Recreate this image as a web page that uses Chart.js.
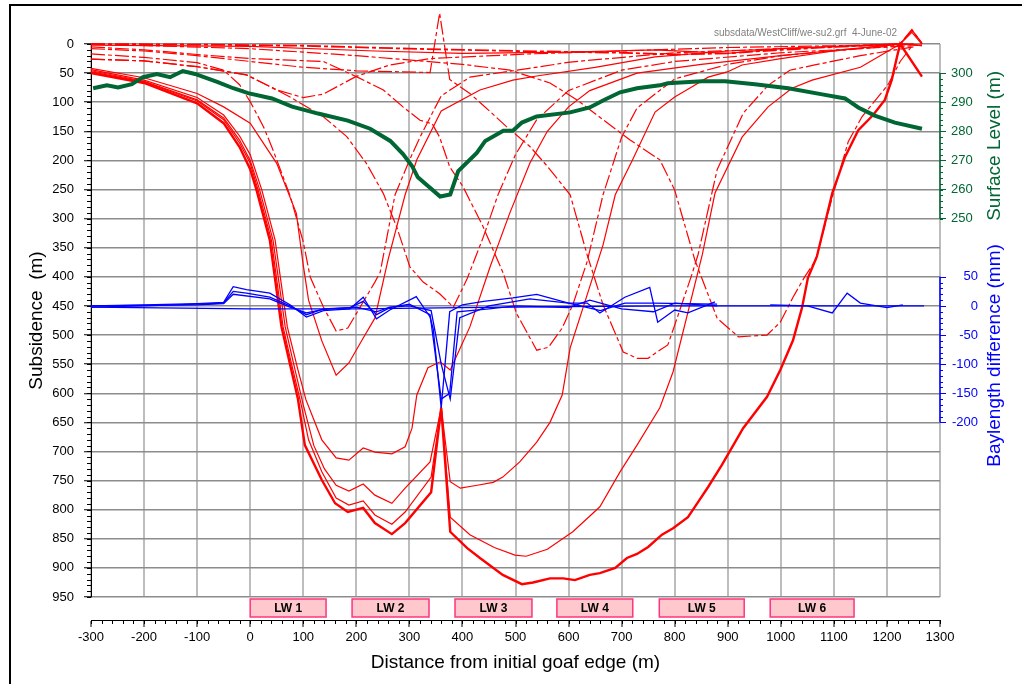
<!DOCTYPE html>
<html>
<head>
<meta charset="utf-8">
<script src="https://cdn.jsdelivr.net/npm/chart.js@4.4.0/dist/chart.umd.min.js"></script>
<style>
  html, body { margin: 0; padding: 0; background: #fff; }
  canvas { display: block; }
</style>
</head>
<body>
<canvas id="myChart" width="1022" height="684"></canvas>
<script>
// subsidence after each longwall [distance m, subsidence]
const subLW1 = [[-300,42],[-200,58],[-100,85],[-50,108],[0,136],[50,205],[87,291],[100,380],[110,440],[135,510],[162,569],[186,548],[213,505],[235,471],[260,370],[292,259],[314,199],[360,115],[433,79],[495,62],[540,55],[650,40],[763,22],[900,12],[1050,6],[1225,0],[1266,2]];
const subLW2 = [[-300,44],[-200,62],[-100,92],[-50,122],[-20,158],[0,190],[22,251],[47,337],[70,486],[90,560],[105,611],[135,680],[162,711],[186,715],[213,694],[235,701],[267,704],[292,692],[305,660],[314,603],[335,556],[358,546],[377,560],[414,486],[452,383],[489,291],[527,205],[560,150],[600,108],[640,80],[729,50],[850,35],[1000,20],[1225,0],[1266,3]];
const subLW3 = [[-300,46],[-200,64],[-100,96],[-50,127],[-20,165],[0,200],[18,251],[43,337],[66,486],[82,550],[100,620],[120,690],[140,730],[162,758],[186,768],[213,756],[235,775],[267,789],[292,763],[339,718],[360,625],[377,752],[396,763],[428,758],[458,753],[476,744],[508,718],[540,684],[565,650],[588,603],[603,522],[635,431],[665,345],[688,259],[720,200],[763,117],[800,91],[832,74],[863,57],[899,48],[927,36],[1000,25],[1100,12],[1225,0],[1247,-24],[1266,-2]];
const subLW4 = [[-300,48],[-200,65],[-100,98],[-50,130],[-20,170],[0,205],[15,251],[40,337],[62,486],[78,550],[95,615],[110,680],[135,735],[162,780],[186,792],[213,785],[235,809],[267,825],[292,804],[341,744],[360,625],[377,813],[414,843],[460,865],[499,878],[520,880],[560,868],[608,838],[659,795],[697,735],[729,689],[772,625],[797,563],[852,362],[876,256],[927,160],[976,108],[1021,76],[1059,62],[1150,40],[1225,0],[1247,-20],[1266,0]];
const subLW5 = [[-300,50],[-200,67],[-100,102],[-50,136],[-20,177],[0,215],[12,251],[37,337],[59,486],[75,550],[90,610],[103,689],[135,749],[160,789],[184,804],[213,797],[235,823],[267,842],[292,823],[341,770],[360,625],[377,838],[409,866],[433,883],[476,912],[512,928],[533,925],[565,918],[590,918],[612,921],[640,912],[659,909],[688,900],[710,883],[729,876],[750,864],[776,843],[797,832],[825,813],[844,787],[863,761],[889,723],[929,660],[974,606],[999,560],[1023,509],[1040,453],[1051,402],[1068,365],[1097,256],[1121,194],[1146,148],[1174,122],[1196,96],[1209,62],[1219,22],[1225,0],[1266,56]];

// incremental profiles, dash-dot
const incA = [[-300,26],[-200,29],[-100,39],[-7,53],[50,79],[100,92],[138,86],[199,56],[263,36],[339,25],[527,17],[700,12],[900,6],[1100,3],[1250,0]];
const incLW1 = [[-300,17],[-200,23],[-100,32],[-50,45],[-20,70],[0,99],[25,142],[43,182],[75,260],[100,340],[113,400],[138,452],[162,493],[184,488],[235,409],[245,392],[273,259],[300,200],[320,160],[360,89],[414,57],[503,45],[603,31],[800,15],[1000,8],[1250,0]];
const incLW2 = [[-300,26],[-200,29],[-100,39],[-7,53],[50,79],[75,91],[138,125],[182,159],[219,205],[251,257],[276,314],[301,383],[326,409],[357,429],[383,452],[409,403],[440,330],[467,259],[500,190],[540,130],[600,80],[700,45],[800,30],[1000,15],[1250,3]];
const incLW3 = [[-300,5],[-200,10],[-100,18],[0,25],[138,30],[200,56],[251,79],[288,108],[320,131],[343,137],[357,160],[376,211],[401,245],[439,314],[477,394],[502,463],[540,526],[562,521],[588,488],[608,448],[635,374],[665,259],[700,160],[729,110],[800,60],[900,35],[1000,20],[1250,0]];
const incLW4 = [[-300,8],[-200,12],[-100,20],[0,30],[100,40],[200,46],[339,49],[357,-53],[376,61],[414,85],[452,116],[483,142],[527,176],[560,210],[603,259],[635,362],[665,448],[703,529],[729,540],[750,540],[767,529],[787,517],[800,483],[832,397],[844,362],[880,216],[929,119],[976,71],[1017,45],[1064,36],[1150,20],[1250,5]];
const incLW5 = [[-300,0],[0,8],[200,20],[400,35],[490,45],[565,67],[616,96],[665,130],[716,165],[772,199],[800,251],[838,371],[880,471],[920,503],[974,500],[999,478],[1023,435],[1045,400],[1066,371],[1097,263],[1127,168],[1153,125],[1202,70],[1225,30],[1250,0]];
const incLW6 = [[-300,0],[-100,1],[100,3],[300,8],[500,12],[700,15],[800,18],[900,16],[1000,10],[1100,5],[1225,0],[1247,-24],[1266,0]];
const topSolid = [[-300,2],[0,4],[235,12],[400,16],[600,14],[763,10],[900,16],[1000,8],[1225,0],[1266,3]];

// baylength difference (mm)
const bayA = [[-300,0],[-200,2],[-100,4],[-50,6],[-32,33],[-7,28],[37,22],[75,2],[106,-19],[138,-8],[188,-5],[213,15],[238,-22],[263,-7],[313,16],[339,-19],[345,-40],[360,-175],[376,-10],[400,2],[440,8],[495,14],[540,20],[600,5],[635,5],[659,-12],[706,15],[753,32],[768,-28],[800,-7],[825,-12],[876,7]];
const bayB = [[-300,-2],[-200,0],[-100,3],[-50,5],[-32,25],[-7,22],[37,15],[75,0],[106,-15],[138,-5],[188,-3],[213,8],[238,-15],[263,-3],[300,3],[339,-15],[360,-160],[376,-150],[390,-10],[450,-5],[500,0],[600,-3],[640,10],[700,-5],[760,-10],[800,5],[880,0]];
const bayC = [[-300,0],[-100,2],[-50,4],[-32,20],[37,12],[75,-2],[106,-12],[138,-6],[200,-2],[238,-10],[263,-2],[300,0],[341,-8],[360,-100],[377,-160],[395,-20],[450,0],[527,12],[600,5],[660,-8],[706,5],[760,5],[880,3]];
const bayD = [[-300,-2],[0,-5],[200,-5],[400,-3],[600,-1],[800,0],[1000,0],[1270,0]];
const bayE = [[980,2],[1050,0],[1097,-12],[1125,22],[1150,5],[1200,-3],[1230,2]];

// surface level (m)
const surface = [[-296,294.8],[-270,295.8],[-249,295.1],[-223,296.2],[-202,298.6],[-176,299.7],[-151,298.6],[-127,300.7],[-104,299.7],[-61,296.9],[-32,294.8],[-4,293.1],[41,291.3],[79,288.5],[128,286.1],[184,283.7],[226,280.9],[264,276.7],[288,272.2],[305,268.1],[316,264.2],[358,257.6],[377,258.3],[392,266.3],[427,272.6],[443,276.7],[477,280.2],[495,280.2],[512,283],[540,285.1],[603,286.5],[640,288.2],[665,290.6],[697,293.4],[729,294.8],[772,295.8],[787,296.5],[852,297.2],[895,297.2],[951,296.2],[1014,294.8],[1078,292.7],[1121,291.3],[1146,288.2],[1177,285.4],[1215,283],[1266,280.9]];

const panelNames = ['LW 1', 'LW 2', 'LW 3', 'LW 4', 'LW 5', 'LW 6'];
const panelStart = [0, 192, 386, 578, 771, 980];
const panelEnd = [143, 337, 531, 721, 931, 1138];
const levelLabels = [250, 260, 270, 280, 290, 300];
const bayLabels = [-200, -150, -100, -50, 0, 50];

const RED = '#ff0000', BLUE = '#0000ff', GREEN = '#006633';
const FONT = "'Liberation Sans', Arial, sans-serif";
const dashDot = [14, 3, 4, 3];

function pts(arr) { return arr.map(p => ({x: p[0], y: p[1]})); }
function red(arr, dashed, width) {
  return {data: pts(arr), borderColor: RED, borderWidth: width || 1.2, borderDash: dashed ? dashDot : [],
    yAxisID: 'y', order: 3, clip: false};
}
function blue(arr) {
  return {data: pts(arr), borderColor: BLUE, borderWidth: 1.3, yAxisID: 'y3', order: 1};
}

// short ticks between the labelled ones
function minorTicks(ctx, scale, from, to, step, horizontal, start, len) {
  ctx.beginPath();
  for (let v = from; v <= to + 1e-9; v += step) {
    const p = Math.round(scale.getPixelForValue(v)) + 0.5;
    if (horizontal) { ctx.moveTo(p, start); ctx.lineTo(p, start + len); }
    else { ctx.moveTo(start, p); ctx.lineTo(start + len, p); }
  }
  ctx.stroke();
}

const extras = {
  id: 'extras',
  beforeDraw(chart) {
    const ctx = chart.ctx;
    ctx.save();
    ctx.fillStyle = '#000';
    ctx.fillRect(9, 4, 2, chart.height);
    ctx.fillRect(9, 4, chart.width, 2);
    ctx.restore();
  },
  afterDraw(chart) {
    const ctx = chart.ctx;
    const x = chart.scales.x, y = chart.scales.y, y2 = chart.scales.y2, y3 = chart.scales.y3;
    const area = chart.chartArea;
    ctx.save();
    ctx.lineWidth = 1;
    ctx.strokeStyle = '#000';
    minorTicks(ctx, y, 0, 950, 10, false, area.left, -4);
    minorTicks(ctx, x, -300, 1300, 20, true, x.top, 4);
    ctx.strokeStyle = GREEN;
    minorTicks(ctx, y2, 250, 300, 2, false, area.right, 3);
    // longwall panels
    ctx.font = 'bold 12px ' + FONT;
    ctx.textAlign = 'center';
    ctx.textBaseline = 'middle';
    panelNames.forEach((name, i) => {
      const l = x.getPixelForValue(panelStart[i]), r = x.getPixelForValue(panelEnd[i]);
      ctx.fillStyle = '#ffc8cc';
      ctx.fillRect(l, area.bottom + 2, r - l, 18);
      ctx.strokeStyle = '#ff3380';
      ctx.lineWidth = 1.5;
      ctx.strokeRect(l, area.bottom + 2, r - l, 18);
      ctx.fillStyle = '#000';
      ctx.fillText(name, (l + r) / 2, area.bottom + 11.5);
    });
    // surface level axis line
    ctx.strokeStyle = GREEN;
    ctx.lineWidth = 1.5;
    ctx.beginPath();
    ctx.moveTo(area.right, y2.getPixelForValue(250));
    ctx.lineTo(area.right, y2.getPixelForValue(300));
    ctx.stroke();
    // baylength axis
    ctx.strokeStyle = BLUE;
    ctx.beginPath();
    ctx.moveTo(area.right, y3.getPixelForValue(-200));
    ctx.lineTo(area.right, y3.getPixelForValue(50));
    ctx.stroke();
    ctx.lineWidth = 1;
    minorTicks(ctx, y3, -200, 50, 10, false, area.right, 3);
    minorTicks(ctx, y3, -200, 50, 50, false, area.right, 6);
    ctx.fillStyle = BLUE;
    ctx.font = '13px ' + FONT;
    ctx.textAlign = 'right';
    bayLabels.forEach(v => ctx.fillText(String(v), area.right + 38, y3.getPixelForValue(v)));
    // right titles
    ctx.font = '19px ' + FONT;
    ctx.textAlign = 'center';
    ctx.save();
    ctx.translate(area.right + 55, (y2.getPixelForValue(250) + y2.getPixelForValue(300)) / 2);
    ctx.rotate(-Math.PI / 2);
    ctx.fillStyle = GREEN;
    ctx.fillText('Surface Level (m)', 0, 0);
    ctx.restore();
    ctx.save();
    ctx.translate(area.right + 55, y3.getPixelForValue(-85));
    ctx.rotate(-Math.PI / 2);
    ctx.fillStyle = BLUE;
    ctx.fillText('Baylength difference (mm)', 0, 0);
    ctx.restore();
    // file stamp
    ctx.font = '10px ' + FONT;
    ctx.fillStyle = '#808080';
    ctx.textAlign = 'right';
    ctx.fillText('subsdata/WestCliff/we-su2.grf  4-June-02', 897, 33);
    ctx.restore();
  }
};

const datasets = [
  blue(bayA), blue(bayB), blue(bayC), blue(bayD), blue(bayE),
  {data: pts(surface), borderColor: GREEN, borderWidth: 4, yAxisID: 'y2', order: 2},
  red(subLW1), red(subLW2), red(subLW3), red(subLW4), red(subLW5, false, 2.4),
  red(incA, true), red(incLW1, true), red(incLW2, true), red(incLW3, true), red(incLW4, true), red(incLW5, true),
  red(incLW6, true, 1.8), red(topSolid)
];

new Chart(document.getElementById('myChart'), {
  type: 'scatter',
  data: {datasets: datasets},
  plugins: [extras],
  options: {
    responsive: false,
    animation: false,
    layout: {padding: {top: 44, left: 0, right: 0, bottom: 0}},
    elements: {point: {radius: 0}, line: {tension: 0}},
    datasets: {scatter: {showLine: true}},
    plugins: {legend: {display: false}, tooltip: {enabled: false}},
    scales: {
      xgap: {
        type: 'linear', position: 'bottom', min: -300, max: 1300, weight: 0,
        grid: {display: false}, ticks: {display: false}, border: {display: false},
        afterFit: s => { s.height = 23; }
      },
      x: {
        type: 'linear', position: 'bottom', min: -300, max: 1300, weight: 1,
        ticks: {stepSize: 100, autoSkip: false, maxRotation: 0, padding: 3, color: '#000',
          font: {family: FONT, size: 13}, callback: v => String(v)},
        grid: {color: '#bdbdbd', lineWidth: 2, tickColor: '#000', tickWidth: 1, tickLength: 7},
        border: {color: '#000', width: 1},
        title: {display: true, text: 'Distance from initial goaf edge (m)', color: '#000',
          font: {family: FONT, size: 19}, padding: {top: 0, bottom: 10}},
        afterFit: s => { s.height = 64; }
      },
      y: {
        type: 'linear', position: 'left', min: 0, max: 950, reverse: true,
        ticks: {stepSize: 50, autoSkip: false, padding: 10, color: '#000',
          font: {family: FONT, size: 13}, callback: v => String(v)},
        grid: {color: '#8c8c8c', lineWidth: 1.5, tickColor: '#000', tickWidth: 1, tickLength: 7},
        border: {color: '#000', width: 1},
        title: {display: true, text: 'Subsidence  (m)', color: '#000',
          font: {family: FONT, size: 19}, padding: {top: 25, bottom: 0}},
        afterFit: s => { s.width = 91; }
      },
      y2: {
        type: 'linear', position: 'right', min: 120, max: 310,
        afterBuildTicks: s => { s.ticks = levelLabels.map(v => ({value: v})); },
        ticks: {autoSkip: false, padding: 5, color: GREEN, font: {family: FONT, size: 13}},
        grid: {drawOnChartArea: false, tickColor: GREEN, tickLength: 6, tickWidth: 1},
        border: {display: false},
        afterFit: s => { s.width = 82; }
      },
      y3: {type: 'linear', display: false, min: -500, max: 450}
    }
  }
});
</script>
</body>
</html>
